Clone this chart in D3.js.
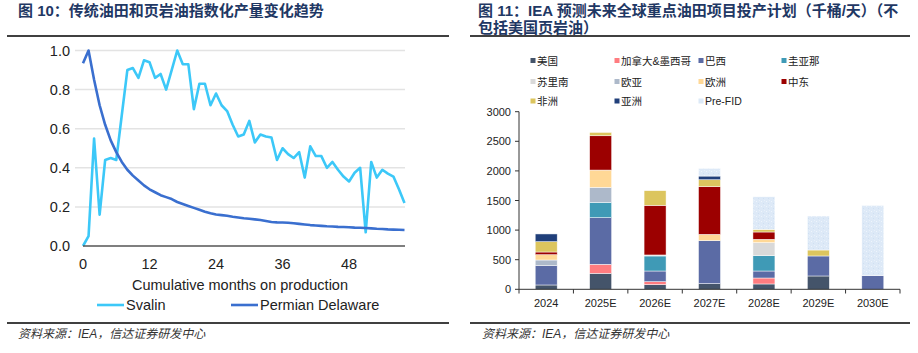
<!DOCTYPE html>
<html>
<head>
<meta charset="utf-8">
<script src="https://cdn.jsdelivr.net/npm/d3@7"></script>
<style>
  body { margin: 0; background: #fff; }
  svg { display: block; }
  text { font-family: "Liberation Sans", Arial, "Noto Sans CJK SC", sans-serif; }
  .cjk { font-family: "Liberation Sans", "Noto Sans CJK SC", sans-serif; }
</style>
</head>
<body>
<div id="chart"></div>
<script>
// 图10 数据：指数化产量（按月）
const svalin = [0.00, 0.05, 0.55, 0.16, 0.44, 0.45, 0.44, 0.67, 0.90, 0.91,
    0.86, 0.95, 0.94, 0.86, 0.88, 0.80, 0.90, 1.00, 0.93, 0.93,
    0.70, 0.83, 0.83, 0.72, 0.78, 0.72, 0.69, 0.62, 0.56, 0.57,
    0.64, 0.53, 0.57, 0.56, 0.555, 0.44, 0.50, 0.47, 0.45, 0.48,
    0.35, 0.51, 0.46, 0.46, 0.40, 0.43, 0.39, 0.355, 0.33, 0.375,
    0.40, 0.07, 0.43, 0.35, 0.39, 0.37, 0.355, 0.29, 0.22];
const permian = [0.935, 1.0, 0.85, 0.72, 0.62, 0.54, 0.48, 0.43, 0.39, 0.36,
    0.335, 0.31, 0.29, 0.275, 0.26, 0.25, 0.24, 0.225, 0.215, 0.205,
    0.195, 0.185, 0.175, 0.167, 0.161, 0.158, 0.155, 0.15, 0.146, 0.142,
    0.139, 0.136, 0.133, 0.128, 0.123, 0.121, 0.12, 0.119, 0.116, 0.113,
    0.11, 0.107, 0.105, 0.103, 0.101, 0.10, 0.098, 0.097, 0.096, 0.094,
    0.093, 0.092, 0.09, 0.088, 0.087, 0.085, 0.084, 0.083, 0.082];
const monthTicks = [0, 12, 24, 36, 48];
const indexTicks = [0, 0.2, 0.4, 0.6, 0.8, 1.0];

// 图11 数据：千桶/天
const years = ["2024", "2025E", "2026E", "2027E", "2028E", "2029E", "2030E"];
const usa      = [73, 270, 79, 96, 90, 225, 0];
const canMex   = [0, 152, 50, 0, 101, 0, 0];
const brazil   = [327, 788, 180, 726, 118, 338, 231];
const guyana   = [0, 259, 254, 0, 259, 0, 0];
const suriname = [0, 0, 17, 0, 220, 0, 0];
const eurasia  = [95, 253, 0, 0, 0, 0, 0];
const europe   = [90, 292, 0, 106, 56, 0, 0];
const mideast  = [45, 580, 838, 805, 124, 0, 0];
const africa   = [175, 56, 248, 118, 45, 101, 0];
const asia     = [130, 0, 0, 62, 0, 0, 0];
const preFid   = [0, 0, 0, 130, 551, 574, 1187];
const regionNames = ["美国", "加拿大&墨西哥", "巴西", "圭亚那", "苏里南", "欧亚", "欧洲", "中东", "非洲", "亚洲", "Pre-FID"];
const regionValues = [usa, canMex, brazil, guyana, suriname, eurasia, europe, mideast, africa, asia, preFid];
const valueTicks = [0, 500, 1000, 1500, 2000, 2500, 3000];

const colors = {
    "美国": "#44546a", "加拿大&墨西哥": "#ff7c80", "巴西": "#5b6ba5", "圭亚那": "#3f9ab6",
    "苏里南": "#d9d9d9", "欧亚": "#adb9ca", "欧洲": "#ffd896", "中东": "#9c0000",
    "非洲": "#dcc55e", "亚洲": "#203f7a", "Pre-FID": "url(#prefid)"
};

const svg = d3.select("#chart").append("svg")
    .attr("width", 918)
    .attr("height", 353);

// Pre-FID 的细纹理填充
const defs = svg.append("defs");
const pat = defs.append("pattern")
    .attr("id", "prefid")
    .attr("width", 5).attr("height", 5)
    .attr("patternUnits", "userSpaceOnUse");
pat.append("rect").attr("width", 5).attr("height", 5).attr("fill", "#dde9f7");
pat.append("rect").attr("x", 1).attr("y", 1).attr("width", 1).attr("height", 1).attr("fill", "#eef5fc");
pat.append("rect").attr("x", 3).attr("y", 3).attr("width", 1).attr("height", 1).attr("fill", "#cfe0f2");
pat.append("rect").attr("x", 4).attr("y", 0).attr("width", 1).attr("height", 1).attr("fill", "#e8f1fa");

// 标题与分隔线
const titleColor = "#1f3864";
svg.append("text").attr("class", "cjk")
    .attr("x", 18).attr("y", 15.5)
    .attr("font-size", 15).attr("font-weight", "bold").attr("fill", titleColor)
    .text("图 10：传统油田和页岩油指数化产量变化趋势");
svg.append("text").attr("class", "cjk")
    .attr("x", 478).attr("y", 15.5)
    .attr("font-size", 15).attr("font-weight", "bold").attr("fill", titleColor)
    .text("图 11：IEA 预测未来全球重点油田项目投产计划（千桶/天）（不");
svg.append("text").attr("class", "cjk")
    .attr("x", 478).attr("y", 33)
    .attr("font-size", 15).attr("font-weight", "bold").attr("fill", titleColor)
    .text("包括美国页岩油）");

[[7, 449], [470, 910]].forEach(([a, b]) => {
    svg.append("line").attr("x1", a).attr("x2", b).attr("y1", 36).attr("y2", 36)
        .attr("stroke", "#000").attr("stroke-width", 1.5);
    svg.append("line").attr("x1", a).attr("x2", b).attr("y1", 323).attr("y2", 323)
        .attr("stroke", "#000").attr("stroke-width", 1.5);
});
[18, 482].forEach(x => {
    svg.append("text").attr("class", "cjk")
        .attr("x", x).attr("y", 338)
        .attr("font-size", 12).attr("font-style", "italic").attr("fill", "#333")
        .text("资料来源：IEA，信达证券研发中心");
});

// ===== 左图：折线 =====
const x1 = d3.scaleLinear().domain([0, 58]).range([83, 404.5]);
const y1 = d3.scaleLinear().domain([0, 1]).range([246, 50.5]);

const left = svg.append("g");
left.selectAll(".grid")
    .data(indexTicks.slice(1))
    .enter().append("line")
    .attr("x1", 75).attr("x2", 405)
    .attr("y1", d => y1(d)).attr("y2", d => y1(d))
    .attr("stroke", "#e3e3e3").attr("stroke-width", 1.5);

left.selectAll(".ylab")
    .data(indexTicks)
    .enter().append("text")
    .attr("x", 70).attr("y", d => y1(d) + 5)
    .attr("text-anchor", "end")
    .attr("font-size", 14.5).attr("fill", "#222")
    .text(d => d.toFixed(1));

left.selectAll(".xlab")
    .data(monthTicks)
    .enter().append("text")
    .attr("x", d => x1(d)).attr("y", 269)
    .attr("text-anchor", "middle")
    .attr("font-size", 14.5).attr("fill", "#222")
    .text(d => d);

left.append("text")
    .attr("x", 240).attr("y", 290)
    .attr("text-anchor", "middle")
    .attr("font-size", 14.5).attr("fill", "#222")
    .text("Cumulative months on production");

const line = d3.line().x((d, i) => x1(i)).y(d => y1(d));

left.append("path").datum(svalin)
    .attr("d", line).attr("fill", "none")
    .attr("stroke", "#3cc8f8").attr("stroke-width", 2.6)
    .attr("stroke-linejoin", "round");
left.append("path").datum(permian)
    .attr("d", line).attr("fill", "none")
    .attr("stroke", "#3a6fcf").attr("stroke-width", 2.6)
    .attr("stroke-linejoin", "round");

left.append("line")
    .attr("x1", 83).attr("x2", 405).attr("y1", 246).attr("y2", 246)
    .attr("stroke", "#555").attr("stroke-width", 1.5);

// 左图图例
[["Svalin", "#3cc8f8", 97], ["Permian Delaware", "#3a6fcf", 231]].forEach(([name, c, lx]) => {
    left.append("line").attr("x1", lx).attr("x2", lx + 27).attr("y1", 305).attr("y2", 305)
        .attr("stroke", c).attr("stroke-width", 2.6);
    left.append("text").attr("x", lx + 29).attr("y", 310)
        .attr("font-size", 14.5).attr("fill", "#222").text(name);
});

// ===== 右图：堆积柱 =====
const table = years.map((yr, i) => {
    const row = { year: yr };
    regionNames.forEach((n, k) => { row[n] = regionValues[k][i]; });
    return row;
});
const series = d3.stack().keys(regionNames)(table);

const x2 = d3.scaleBand().domain(years).range([519, 900])
    .paddingInner(0.596).paddingOuter(0.298);
const y2 = d3.scaleLinear().domain([0, 3000]).range([289.3, 111.7]);

const right = svg.append("g");
right.selectAll(".layer")
    .data(series)
    .enter().append("g")
    .attr("fill", d => colors[d.key])
    .selectAll("rect")
    .data(d => d)
    .enter().append("rect")
    .attr("x", d => x2(d.data.year))
    .attr("width", x2.bandwidth())
    .attr("y", d => y2(d[1]))
    .attr("height", d => y2(d[0]) - y2(d[1]))
    .attr("stroke", "#fff").attr("stroke-width", 0.6).attr("stroke-opacity", 0.8);

// 坐标轴
right.append("line").attr("x1", 519).attr("x2", 519).attr("y1", 111.7).attr("y2", 289.3)
    .attr("stroke", "#333").attr("stroke-width", 1);
right.selectAll(".ytick")
    .data(valueTicks)
    .enter().append("line")
    .attr("x1", 515).attr("x2", 519)
    .attr("y1", d => y2(d)).attr("y2", d => y2(d))
    .attr("stroke", "#333");
right.selectAll(".ylab")
    .data(valueTicks)
    .enter().append("text")
    .attr("x", 511).attr("y", d => y2(d) + 4)
    .attr("text-anchor", "end")
    .attr("font-size", 11).attr("fill", "#222")
    .text(d => d);

right.append("line").attr("x1", 519).attr("x2", 900).attr("y1", 289.3).attr("y2", 289.3)
    .attr("stroke", "#333").attr("stroke-width", 1);
const step = x2.step();
right.selectAll(".xtick")
    .data(d3.range(years.length + 1))
    .enter().append("line")
    .attr("x1", d => 519 + d * step).attr("x2", d => 519 + d * step)
    .attr("y1", 289.3).attr("y2", 293.5)
    .attr("stroke", "#333");
right.selectAll(".xlab")
    .data(years)
    .enter().append("text")
    .attr("x", d => x2(d) + x2.bandwidth() / 2).attr("y", 307)
    .attr("text-anchor", "middle")
    .attr("font-size", 11).attr("fill", "#222")
    .text(d => d);

// 右图图例
const legCols = [533, 617, 701, 784];
const legRows = [60.5, 81.5, 101];
regionNames.forEach((n, k) => {
    const lx = legCols[k % 4], ly = legRows[Math.floor(k / 4)];
    right.append("rect").attr("x", lx - 2.5).attr("y", ly - 2.5)
        .attr("width", 5).attr("height", 5)
        .attr("fill", n === "Pre-FID" ? "#dce9f7" : colors[n]);
    right.append("text").attr("class", "cjk")
        .attr("x", lx + 4).attr("y", ly + 4)
        .attr("font-size", 10.5).attr("fill", "#222")
        .text(n);
});
</script>
</body>
</html>
